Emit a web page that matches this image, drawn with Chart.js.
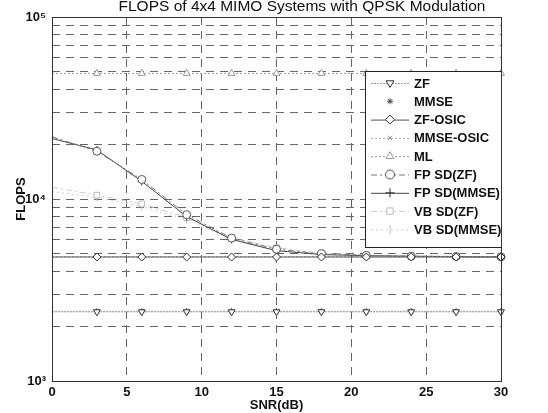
<!DOCTYPE html>
<html>
<head>
<meta charset="utf-8">
<script src="https://cdn.jsdelivr.net/npm/chart.js@4.4.1/dist/chart.umd.min.js"></script>
<style>
    html, body { margin: 0; padding: 0; background: #fff; }
    #wrap { width: 548px; height: 413px; }
</style>
</head>
<body>
<div id="wrap"><canvas id="flopsChart" width="548" height="413"></canvas></div>
<script>
// values
const snr = [0, 3, 6, 9, 12, 15, 18, 21, 24, 27, 30];
const zf = [2400, 2400, 2400, 2400, 2400, 2400, 2400, 2400, 2400, 2400, 2400];
const mmse = [2420, 2420, 2420, 2420, 2420, 2420, 2420, 2420, 2420, 2420, 2420];
const zfOsic = [4800, 4800, 4800, 4800, 4800, 4800, 4800, 4800, 4800, 4800, 4800];
const mmseOsic = [4820, 4820, 4820, 4820, 4820, 4820, 4820, 4820, 4820, 4820, 4820];
const ml = [49000, 49000, 49000, 49000, 49000, 49000, 49000, 49000, 49000, 49000, 49000];
const fpSdZf = [22000, 18300, 12800, 8200, 6100, 5300, 5000, 4900, 4850, 4830, 4810];
const fpSdMmse = [21500, 18600, 12500, 8000, 6000, 5200, 4950, 4880, 4840, 4820, 4800];
const vbSdZf = [11600, 10500, 9400, 7900, 6100, 5400, 5050, 4920, 4870, 4840, 4820];
const vbSdMmse = [11000, 10200, 9100, 7700, 6000, 5300, 5000, 4900, 4850, 4820, 4800];

const xTicks = [0, 5, 10, 15, 20, 25, 30];
const yTicks = [1000, 2000, 3000, 4000, 5000, 6000, 7000, 8000, 9000,
    10000, 20000, 30000, 40000, 50000, 60000, 70000, 80000, 90000, 100000];
const yTickLabels = { 1000: "10³", 10000: "10⁴", 100000: "10⁵" };

const FONT = "'Liberation Sans', Arial, sans-serif";
const radiusFrom2nd = (r) => snr.map((x, i) => (i === 0 ? 0 : r));

function series(label, values, style) {
    return Object.assign({
        label,
        data: snr.map((x, i) => ({ x, y: values[i] })),
        borderWidth: 1,
        pointBackgroundColor: "#fff",
        pointBorderWidth: 1,
        pointRadius: radiusFrom2nd(4),
        clip: 8,
        tension: 0
    }, style);
}

const datasets = [
    series("ZF", zf, { borderColor: "#999", borderDash: [2, 1], pointBorderColor: "#333", pointStyle: "triangle", pointRotation: 180 }),
    series("MMSE", mmse, { borderColor: "#ddd", pointBorderColor: "#444", pointStyle: "star", pointRadius: radiusFrom2nd(3) }),
    series("ZF-OSIC", zfOsic, { borderColor: "#555", pointBorderColor: "#333", pointStyle: "rectRot" }),
    series("MMSE-OSIC", mmseOsic, { borderColor: "#aaa", borderDash: [2, 2], pointBorderColor: "#888", pointStyle: "crossRot", pointRadius: radiusFrom2nd(3) }),
    series("ML", ml, { borderColor: "#999", borderDash: [2, 2], pointBorderColor: "#999", pointStyle: "triangle" }),
    series("FP SD(ZF)", fpSdZf, { borderColor: "#777", borderDash: [6, 3, 2, 3], pointBorderColor: "#555", pointStyle: "circle" }),
    series("FP SD(MMSE)", fpSdMmse, { borderColor: "#444", pointBorderColor: "#333", pointStyle: "cross" }),
    series("VB SD(ZF)", vbSdZf, { borderColor: "#ccc", borderDash: [6, 3, 2, 3], pointBorderColor: "#bbb", pointStyle: "rect" }),
    series("VB SD(MMSE)", vbSdMmse, { borderColor: "#ccc", borderDash: [2, 3], pointBorderColor: "#bbb", pointStyle: "line", pointRotation: 90 })
];

// title, axes box and the legend drawn inside the plot like MATLAB does
const matlabFrame = {
    id: "matlabFrame",
    afterDatasetsDraw(chart) {
        const { ctx, chartArea } = chart;
        ctx.save();

        const box = { left: chartArea.right - 136, top: 71, width: 136, height: 176 };
        ctx.fillStyle = "#fff";
        ctx.fillRect(box.left, box.top, box.width, box.height);
        ctx.strokeStyle = "#222";
        ctx.lineWidth = 1;
        ctx.setLineDash([]);
        ctx.strokeRect(box.left + 0.5, box.top + 0.5, box.width, box.height);

        const rowH = 18.3;
        ctx.font = "bold 13px " + FONT;
        ctx.textBaseline = "middle";
        ctx.textAlign = "left";
        chart.data.datasets.forEach((ds, i) => {
            const y = box.top + 12 + i * rowH;
            if (ds.label !== "MMSE") {
                ctx.strokeStyle = ds.borderColor;
                ctx.lineWidth = 1;
                ctx.setLineDash(ds.borderDash || []);
                ctx.beginPath();
                ctx.moveTo(box.left + 6, y + 0.5);
                ctx.lineTo(box.left + 44, y + 0.5);
                ctx.stroke();
            }
            ctx.setLineDash([]);
            ctx.strokeStyle = ds.pointBorderColor;
            ctx.fillStyle = "#fff";
            Chart.helpers.drawPoint(ctx, {
                pointStyle: ds.pointStyle,
                rotation: ds.pointRotation || 0,
                radius: ds.label === "MMSE" || ds.label === "MMSE-OSIC" ? 3 : 4.5,
                borderWidth: 1
            }, box.left + 25, y);
            ctx.fillStyle = "#111";
            ctx.fillText(ds.label, box.left + 49, y + 1);
        });

        ctx.strokeStyle = "#333";
        ctx.strokeRect(chartArea.left + 0.5, chartArea.top + 0.5,
            chartArea.right - chartArea.left, chartArea.bottom - chartArea.top);

        ctx.fillStyle = "#111";
        ctx.font = "15.5px " + FONT;
        ctx.textAlign = "center";
        ctx.fillText("FLOPS of 4x4 MIMO Systems with QPSK Modulation", 302, 7);
        ctx.restore();
    }
};

const gridStyle = { color: "#666", lineWidth: 1, drawTicks: false };
const tickFont = { family: FONT, size: 13, weight: "bold" };

new Chart(document.getElementById("flopsChart"), {
    type: "line",
    data: { datasets },
    plugins: [matlabFrame],
    options: {
        responsive: false,
        animation: false,
        devicePixelRatio: 1,
        layout: { padding: { left: 0, top: 17, right: 47, bottom: 0 } },
        plugins: {
            legend: { display: false },
            title: { display: false },
            tooltip: { enabled: false }
        },
        scales: {
            x: {
                type: "linear",
                min: 0,
                max: 30,
                afterFit: (scale) => { scale.height = 32; },
                afterBuildTicks: (scale) => { scale.ticks = xTicks.map((v) => ({ value: v })); },
                grid: gridStyle,
                border: { display: false, dash: [8, 6] },
                ticks: { color: "#111", padding: 4, font: tickFont },
                title: { display: true, text: "SNR(dB)", color: "#111", padding: { top: 0, bottom: 0 }, font: tickFont }
            },
            y: {
                type: "logarithmic",
                min: 1000,
                max: 100000,
                afterFit: (scale) => { scale.width = 52; },
                afterBuildTicks: (scale) => { scale.ticks = yTicks.map((v) => ({ value: v, major: v in yTickLabels })); },
                grid: gridStyle,
                border: { display: false, dash: [8, 6] },
                ticks: {
                    color: "#111",
                    padding: 6,
                    autoSkip: false,
                    font: tickFont,
                    callback: (value) => yTickLabels[value] || ""
                },
                title: { display: true, text: "FLOPS", color: "#111", padding: { top: 14, bottom: 0 }, font: tickFont }
            }
        }
    }
});
</script>
</body>
</html>
